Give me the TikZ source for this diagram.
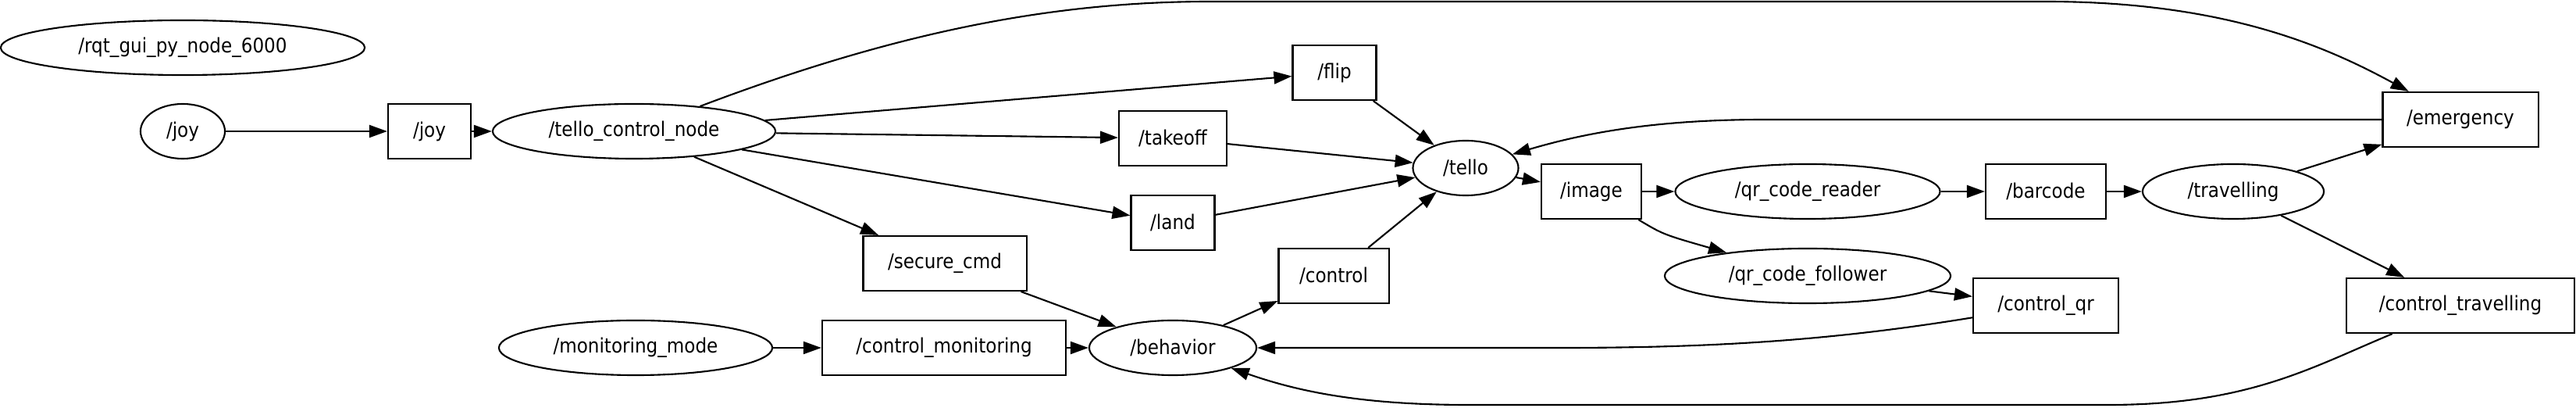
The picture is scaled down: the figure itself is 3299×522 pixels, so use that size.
\documentclass[tikz,border=0pt]{standalone}
\usepackage{fontspec}
\setmainfont{DejaVu Sans Condensed}
\usetikzlibrary{arrows.meta,shapes.geometric}

\begin{document}
\begin{tikzpicture}[x=0.01cm,y=-0.01cm,line width=0.6pt,
  >={Triangle[length=2.3mm,width=1.6mm]},
  topic/.style={draw,rectangle,minimum height=7mm,inner sep=0pt,font=\fontsize{7.3}{8}\selectfont},
  nd/.style={draw,ellipse,minimum height=7mm,inner sep=0pt,font=\fontsize{7.3}{8}\selectfont}]
\useasboundingbox (0,0) rectangle (3299,522);
\node (rqt) [nd,minimum width=4.66cm] at (234,61) {/rqt\_gui\_py\_node\_6000};
\node (joyn) [nd,minimum width=1.08cm] at (234,168) {/joy};
\node (joyt) [topic,minimum width=1.06cm] at (550,168) {/joy};
\node (tcn) [nd,minimum width=3.62cm] at (812,168) {/tello\_control\_node};
\node (mon) [nd,minimum width=3.5cm] at (814,445) {/monitoring\_mode};
\node (flip) [topic,minimum width=1.07cm] at (1709,93) {/flip};
\node (takeoff) [topic,minimum width=1.38cm] at (1502,177) {/takeoff};
\node (land) [topic,minimum width=1.07cm] at (1502,285) {/land};
\node (secure) [topic,minimum width=2.09cm] at (1210,337) {/secure\_cmd};
\node (ctrl) [topic,minimum width=1.41cm] at (1708,353) {/control};
\node (tello) [nd,minimum width=1.35cm] at (1877,215) {/tello};
\node (image) [topic,minimum width=1.28cm] at (2038,245) {/image};
\node (cmon) [topic,minimum width=3.12cm] at (1209,445) {/control\_monitoring};
\node (behav) [nd,minimum width=2.14cm] at (1502,445) {/behavior};
\node (emerg) [topic,minimum width=1.99cm] at (3151,153) {/emergency};
\node (qrr) [nd,minimum width=3.39cm] at (2315,245) {/qr\_code\_reader};
\node (barcode) [topic,minimum width=1.54cm] at (2620,245) {/barcode};
\node (trav) [nd,minimum width=2.32cm] at (2860,245) {/travelling};
\node (qrf) [nd,minimum width=3.66cm] at (2315,353) {/qr\_code\_follower};
\node (cqr) [topic,minimum width=1.86cm] at (2620,391) {/control\_qr};
\node (ctrav) [topic,minimum width=2.92cm] at (3151,391) {/control\_travelling};
\draw[->] (joyn) -- (joyt);
\draw[->] (joyt) -- (tcn);
\draw[->] (tcn) -- (flip);
\draw[->] (tcn) -- (takeoff);
\draw[->] (tcn) -- (land);
\draw[->] (tcn) -- (secure);
\draw[->] (tcn) .. controls (1150,40) and (1350,2) .. (1550,2) -- (2620,2) .. controls (2850,2) and (2980,60) .. (emerg);
\draw[->] (flip) -- (tello);
\draw[->] (takeoff) -- (tello);
\draw[->] (land) -- (tello);
\draw[->] (ctrl) -- (tello);
\draw[->] (emerg) -- (2260,153) .. controls (2120,153) and (2030,170) .. (tello);
\draw[->] (tello) -- (image);
\draw[->] (image) -- (qrr);
\draw[->] (image) .. controls (2130,300) .. (qrf);
\draw[->] (qrr) -- (barcode);
\draw[->] (barcode) -- (trav);
\draw[->] (trav) -- (emerg);
\draw[->] (trav) -- (ctrav);
\draw[->] (qrf) -- (cqr);
\draw[->] (cqr) .. controls (2350,435) and (2200,445) .. (2000,445) -- (behav);
\draw[->] (ctrav) .. controls (2960,470) and (2880,518) .. (2700,518) -- (1880,518) .. controls (1740,518) and (1660,500) .. (behav);
\draw[->] (secure) -- (behav);
\draw[->] (mon) -- (cmon);
\draw[->] (cmon) -- (behav);
\draw[->] (behav) -- (ctrl);
\end{tikzpicture}
\end{document}
